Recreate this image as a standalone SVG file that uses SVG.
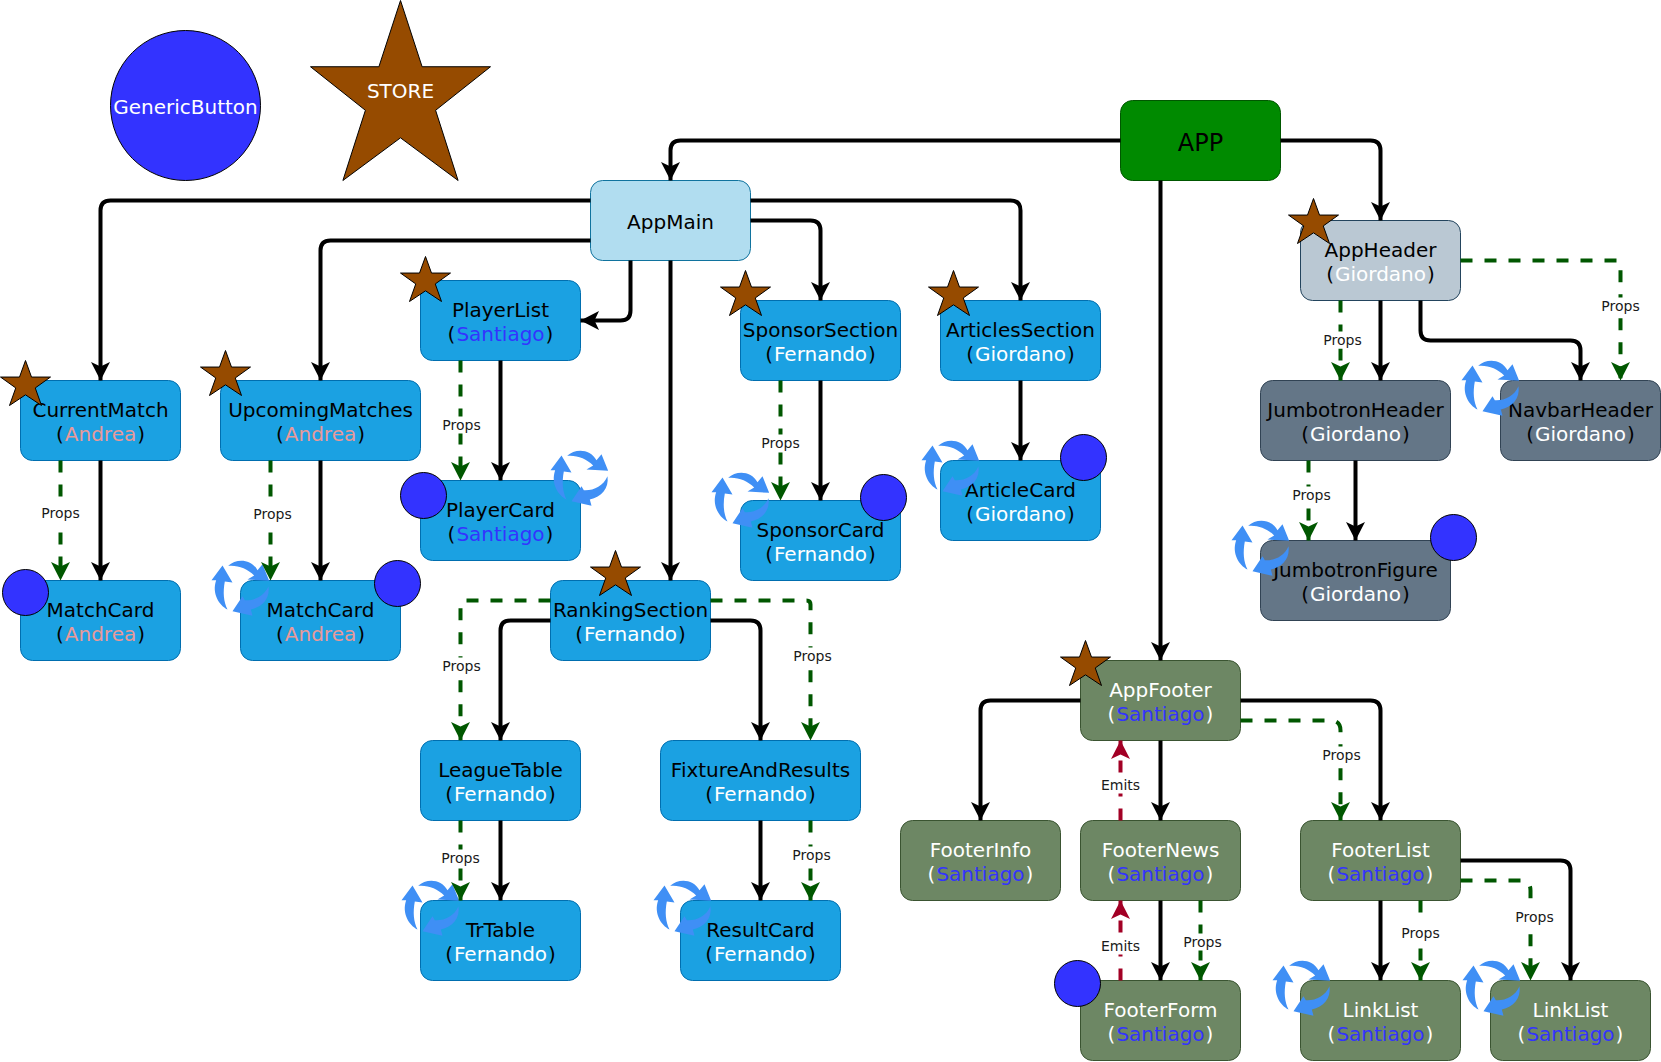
<svg xmlns="http://www.w3.org/2000/svg" width="1661" height="1062" viewBox="0 0 1661 1062">
<style>
text{font-family:"DejaVu Sans",Verdana,sans-serif;font-size:20px;text-anchor:middle;fill:#000;text-rendering:optimizeSpeed}
.blue{fill:#1ba1e2;stroke:#006eaf}
.main{fill:#b1ddf0;stroke:#10739e}
.app{fill:#008a00;stroke:#005700}
.hdr{fill:#bac8d3;stroke:#23445d}
.slate{fill:#647687;stroke:#314354}
.foot{fill:#6d8764;stroke:#3a5431}
.btn{fill:#3333ff;stroke:#000}
.w{fill:#fff}
.s{fill:#3333ff}
.a{fill:#ea9999}
.k{fill:none;stroke:#000;stroke-width:4;marker-end:url(#ak)}
.g{fill:none;stroke:#005700;stroke-width:4;stroke-dasharray:12 12;marker-end:url(#ag)}
.r{fill:none;stroke:#a20025;stroke-width:4;stroke-dasharray:12 12;marker-end:url(#ar)}
.lb{fill:#fff}
.l{font-size:14px;fill:#1a1a1a}
</style>
<defs>
<marker id="ak" markerUnits="userSpaceOnUse" markerWidth="20" markerHeight="20" refX="18.5" refY="10" orient="auto"><path d="M0 .5L18.5 10L0 19.5L4.5 10Z" fill="#000"/></marker>
<marker id="ag" markerUnits="userSpaceOnUse" markerWidth="20" markerHeight="20" refX="18.5" refY="10" orient="auto"><path d="M0 .5L18.5 10L0 19.5L4.5 10Z" fill="#005700"/></marker>
<marker id="ar" markerUnits="userSpaceOnUse" markerWidth="20" markerHeight="20" refX="18.5" refY="10" orient="auto"><path d="M0 .5L18.5 10L0 19.5L4.5 10Z" fill="#a20025"/></marker>
<path id="star" d="M50 0L62 36.8L100 36.8L69.5 61L82 100L50 76.3L18 100L30.5 61L0 36.8L38 36.8Z" fill="#964b00" stroke="#000" vector-effect="non-scaling-stroke"/>
<g id="cycle" fill="#3f8ff5" transform="scale(.3333) translate(-32 -37)">
<path d="M65 46L95 97L72 94C66 125 68 155 80 178C55 165 32 130 46 90L32 90Z"/>
<path d="M82 47C105 25 150 24 170 60L185 42L205 92L140 88L160 76C140 55 110 44 82 47Z"/>
<path d="M95 183L125 138L132 150C160 152 190 138 203 108C208 145 185 170 150 178L155 197Z"/>
</g>
</defs>
<g transform="translate(.5 .5)">
<g id="legend-button"><circle class="btn" cx="185" cy="105" r="75"/><text x="185" y="113" class="w">GenericButton</text></g>
<g id="legend-store"><use href="#star" transform="translate(310 0) scale(1.8)"/><text x="400" y="97" class="w">STORE</text></g>

<g id="app"><rect class="app" x="1120" y="100" width="160" height="80" rx="12"/><text x="1200" y="150" style="font-size:24px">APP</text></g>
<g id="appmain"><rect class="main" x="590" y="180" width="160" height="80" rx="12"/><text x="670" y="228">AppMain</text></g>

<g id="appheader"><rect class="hdr" x="1300" y="220" width="160" height="80" rx="12"/><text x="1380" y="256">AppHeader</text><text x="1380" y="280">(<tspan dx="1" class="w">Giordano</tspan><tspan dx="1">)</tspan></text><use href="#star" transform="translate(1288 198) scale(.5 .45)"/></g>
<g id="jumbotronheader"><rect class="slate" x="1260" y="380" width="190" height="80" rx="12"/><text x="1355" y="416">JumbotronHeader</text><text x="1355" y="440">(<tspan dx="1" class="w">Giordano</tspan><tspan dx="1">)</tspan></text></g>
<g id="navbarheader"><rect class="slate" x="1500" y="380" width="160" height="80" rx="12"/><text x="1580" y="416">NavbarHeader</text><text x="1580" y="440">(<tspan dx="1" class="w">Giordano</tspan><tspan dx="1">)</tspan></text><use href="#cycle" x="1461" y="362"/></g>
<g id="jumbotronfigure"><rect class="slate" x="1260" y="540" width="190" height="80" rx="12"/><text x="1355" y="576">JumbotronFigure</text><text x="1355" y="600">(<tspan dx="1" class="w">Giordano</tspan><tspan dx="1">)</tspan></text><use href="#cycle" x="1231" y="522"/><circle class="btn" cx="1453" cy="537" r="23"/></g>

<g id="currentmatch"><rect class="blue" x="20" y="380" width="160" height="80" rx="12"/><text x="100" y="416">CurrentMatch</text><text x="100" y="440">(<tspan dx="1" class="a">Andrea</tspan><tspan dx="1">)</tspan></text><use href="#star" transform="translate(0 360) scale(.5 .45)"/></g>
<g id="upcomingmatches"><rect class="blue" x="220" y="380" width="200" height="80" rx="12"/><text x="320" y="416">UpcomingMatches</text><text x="320" y="440">(<tspan dx="1" class="a">Andrea</tspan><tspan dx="1">)</tspan></text><use href="#star" transform="translate(200 350) scale(.5 .45)"/></g>
<g id="matchcard-1"><rect class="blue" x="20" y="580" width="160" height="80" rx="12"/><text x="100" y="616">MatchCard</text><text x="100" y="640">(<tspan dx="1" class="a">Andrea</tspan><tspan dx="1">)</tspan></text><circle class="btn" cx="25" cy="592" r="23"/></g>
<g id="matchcard-2"><rect class="blue" x="240" y="580" width="160" height="80" rx="12"/><text x="320" y="616">MatchCard</text><text x="320" y="640">(<tspan dx="1" class="a">Andrea</tspan><tspan dx="1">)</tspan></text><use href="#cycle" x="211" y="562"/><circle class="btn" cx="397" cy="583" r="23"/></g>
<g id="playerlist"><rect class="blue" x="420" y="280" width="160" height="80" rx="12"/><text x="500" y="316">PlayerList</text><text x="500" y="340">(<tspan dx="1" class="s">Santiago</tspan><tspan dx="1">)</tspan></text><use href="#star" transform="translate(400 256) scale(.5 .45)"/></g>
<g id="playercard"><rect class="blue" x="420" y="480" width="160" height="80" rx="12"/><text x="500" y="516">PlayerCard</text><text x="500" y="540">(<tspan dx="1" class="s">Santiago</tspan><tspan dx="1">)</tspan></text><use href="#cycle" x="550" y="452"/><circle class="btn" cx="423" cy="495" r="23"/></g>
<g id="sponsorsection"><rect class="blue" x="740" y="300" width="160" height="80" rx="12"/><text x="820" y="336">SponsorSection</text><text x="820" y="360">(<tspan dx="1" class="w">Fernando</tspan><tspan dx="1">)</tspan></text><use href="#star" transform="translate(720 270) scale(.5 .45)"/></g>
<g id="sponsorcard"><rect class="blue" x="740" y="500" width="160" height="80" rx="12"/><text x="820" y="536">SponsorCard</text><text x="820" y="560">(<tspan dx="1" class="w">Fernando</tspan><tspan dx="1">)</tspan></text><use href="#cycle" x="711" y="474"/><circle class="btn" cx="883" cy="497" r="23"/></g>
<g id="articlessection"><rect class="blue" x="940" y="300" width="160" height="80" rx="12"/><text x="1020" y="336">ArticlesSection</text><text x="1020" y="360">(<tspan dx="1" class="w">Giordano</tspan><tspan dx="1">)</tspan></text><use href="#star" transform="translate(928 270) scale(.5 .45)"/></g>
<g id="articlecard"><rect class="blue" x="940" y="460" width="160" height="80" rx="12"/><text x="1020" y="496">ArticleCard</text><text x="1020" y="520">(<tspan dx="1" class="w">Giordano</tspan><tspan dx="1">)</tspan></text><use href="#cycle" x="921" y="442"/><circle class="btn" cx="1083" cy="457" r="23"/></g>
<g id="rankingsection"><rect class="blue" x="550" y="580" width="160" height="80" rx="12"/><text x="630" y="616">RankingSection</text><text x="630" y="640">(<tspan dx="1" class="w">Fernando</tspan><tspan dx="1">)</tspan></text><use href="#star" transform="translate(590 550) scale(.5 .45)"/></g>
<g id="leaguetable"><rect class="blue" x="420" y="740" width="160" height="80" rx="12"/><text x="500" y="776">LeagueTable</text><text x="500" y="800">(<tspan dx="1" class="w">Fernando</tspan><tspan dx="1">)</tspan></text></g>
<g id="fixtureandresults"><rect class="blue" x="660" y="740" width="200" height="80" rx="12"/><text x="760" y="776">FixtureAndResults</text><text x="760" y="800">(<tspan dx="1" class="w">Fernando</tspan><tspan dx="1">)</tspan></text></g>
<g id="trtable"><rect class="blue" x="420" y="900" width="160" height="80" rx="12"/><text x="500" y="936">TrTable</text><text x="500" y="960">(<tspan dx="1" class="w">Fernando</tspan><tspan dx="1">)</tspan></text><use href="#cycle" x="401" y="882"/></g>
<g id="resultcard"><rect class="blue" x="680" y="900" width="160" height="80" rx="12"/><text x="760" y="936">ResultCard</text><text x="760" y="960">(<tspan dx="1" class="w">Fernando</tspan><tspan dx="1">)</tspan></text><use href="#cycle" x="653" y="882"/></g>

<g id="appfooter"><rect class="foot" x="1080" y="660" width="160" height="80" rx="12"/><text x="1160" y="696" class="w">AppFooter</text><text x="1160" y="720" class="w">(<tspan dx="1" class="s">Santiago</tspan><tspan dx="1">)</tspan></text><use href="#star" transform="translate(1060 640) scale(.5 .45)"/></g>
<g id="footerinfo"><rect class="foot" x="900" y="820" width="160" height="80" rx="12"/><text x="980" y="856" class="w">FooterInfo</text><text x="980" y="880" class="w">(<tspan dx="1" class="s">Santiago</tspan><tspan dx="1">)</tspan></text></g>
<g id="footernews"><rect class="foot" x="1080" y="820" width="160" height="80" rx="12"/><text x="1160" y="856" class="w">FooterNews</text><text x="1160" y="880" class="w">(<tspan dx="1" class="s">Santiago</tspan><tspan dx="1">)</tspan></text></g>
<g id="footerlist"><rect class="foot" x="1300" y="820" width="160" height="80" rx="12"/><text x="1380" y="856" class="w">FooterList</text><text x="1380" y="880" class="w">(<tspan dx="1" class="s">Santiago</tspan><tspan dx="1">)</tspan></text></g>
<g id="footerform"><rect class="foot" x="1080" y="980" width="160" height="80" rx="12"/><text x="1160" y="1016" class="w">FooterForm</text><text x="1160" y="1040" class="w">(<tspan dx="1" class="s">Santiago</tspan><tspan dx="1">)</tspan></text><circle class="btn" cx="1077" cy="983" r="23"/></g>
<g id="linklist-1"><rect class="foot" x="1300" y="980" width="160" height="80" rx="12"/><text x="1380" y="1016" class="w">LinkList</text><text x="1380" y="1040" class="w">(<tspan dx="1" class="s">Santiago</tspan><tspan dx="1">)</tspan></text><use href="#cycle" x="1272" y="962"/></g>
<g id="linklist-2"><rect class="foot" x="1490" y="980" width="160" height="80" rx="12"/><text x="1570" y="1016" class="w">LinkList</text><text x="1570" y="1040" class="w">(<tspan dx="1" class="s">Santiago</tspan><tspan dx="1">)</tspan></text><use href="#cycle" x="1462" y="962"/></g>

<g id="connectors">
<path class="k" d="M1120 140H680Q670 140 670 150V180"/>
<path class="k" d="M1280 140H1370Q1380 140 1380 150V220"/>
<path class="k" d="M1160 180V660"/>
<path class="k" d="M590 200H110Q100 200 100 210V380"/>
<path class="k" d="M590 240H330Q320 240 320 250V380"/>
<path class="k" d="M630 260V310Q630 320 620 320H580"/>
<path class="k" d="M670 260V580"/>
<path class="k" d="M750 220H810Q820 220 820 230V300"/>
<path class="k" d="M750 200H1010Q1020 200 1020 210V300"/>
<path class="k" d="M100 460V580"/>
<path class="k" d="M320 460V580"/>
<path class="k" d="M500 360V480"/>
<path class="k" d="M820 380V500"/>
<path class="k" d="M1020 380V460"/>
<path class="k" d="M550 620H510Q500 620 500 630V740"/>
<path class="k" d="M710 620H750Q760 620 760 630V740"/>
<path class="k" d="M500 820V900"/>
<path class="k" d="M760 820V900"/>
<path class="k" d="M1380 300V380"/>
<path class="k" d="M1420 300V330Q1420 340 1430 340H1570Q1580 340 1580 350V380"/>
<path class="k" d="M1355 460V540"/>
<path class="k" d="M1080 700H990Q980 700 980 710V820"/>
<path class="k" d="M1160 740V820"/>
<path class="k" d="M1240 700H1370Q1380 700 1380 710V820"/>
<path class="k" d="M1160 900V980"/>
<path class="k" d="M1380 900V980"/>
<path class="k" d="M1460 860H1560Q1570 860 1570 870V980"/>

<path class="g" d="M60 460V580"/>
<path class="g" d="M270 460V580"/>
<path class="g" d="M460 360V480"/>
<path class="g" d="M780 380V500"/>
<path class="g" d="M550 600H464Q460 600 460 604V740"/>
<path class="g" d="M710 600H806Q810 600 810 604V740"/>
<path class="g" d="M460 820V900"/>
<path class="g" d="M810 820V900"/>
<path class="g" d="M1460 260H1616Q1620 260 1620 264V380"/>
<path class="g" d="M1340 300V380"/>
<path class="g" d="M1308 460V540"/>
<path class="g" d="M1240 720H1330Q1340 720 1340 730V820"/>
<path class="g" d="M1200 900V980"/>
<path class="g" d="M1420 900V980"/>
<path class="g" d="M1460 880H1520Q1530 880 1530 890V980"/>
<path class="r" d="M1120 820V740"/>
<path class="r" d="M1120 980V900"/>

<g id="edge-labels">
<rect class="lb" x="40" y="504" width="41" height="17"/><text class="l" x="60" y="517">Props</text>
<rect class="lb" x="252" y="505" width="41" height="17"/><text class="l" x="272" y="518">Props</text>
<rect class="lb" x="441" y="416" width="41" height="17"/><text class="l" x="461" y="429">Props</text>
<rect class="lb" x="760" y="434" width="41" height="17"/><text class="l" x="780" y="447">Props</text>
<rect class="lb" x="441" y="657" width="41" height="17"/><text class="l" x="461" y="670">Props</text>
<rect class="lb" x="792" y="647" width="41" height="17"/><text class="l" x="812" y="660">Props</text>
<rect class="lb" x="440" y="849" width="41" height="17"/><text class="l" x="460" y="862">Props</text>
<rect class="lb" x="791" y="846" width="41" height="17"/><text class="l" x="811" y="859">Props</text>
<rect class="lb" x="1600" y="297" width="41" height="17"/><text class="l" x="1620" y="310">Props</text>
<rect class="lb" x="1322" y="331" width="41" height="17"/><text class="l" x="1342" y="344">Props</text>
<rect class="lb" x="1291" y="486" width="41" height="17"/><text class="l" x="1311" y="499">Props</text>
<rect class="lb" x="1321" y="746" width="41" height="17"/><text class="l" x="1341" y="759">Props</text>
<rect class="lb" x="1182" y="933" width="41" height="17"/><text class="l" x="1202" y="946">Props</text>
<rect class="lb" x="1400" y="923" width="41" height="18"/><text class="l" x="1420" y="937">Props</text>
<rect class="lb" x="1514" y="908" width="41" height="17"/><text class="l" x="1534" y="921">Props</text>
<rect class="lb" x="1100" y="776" width="41" height="17"/><text class="l" x="1120" y="789">Emits</text>
<rect class="lb" x="1100" y="937" width="41" height="17"/><text class="l" x="1120" y="950">Emits</text>
</g>
</g>
</g>
</svg>
